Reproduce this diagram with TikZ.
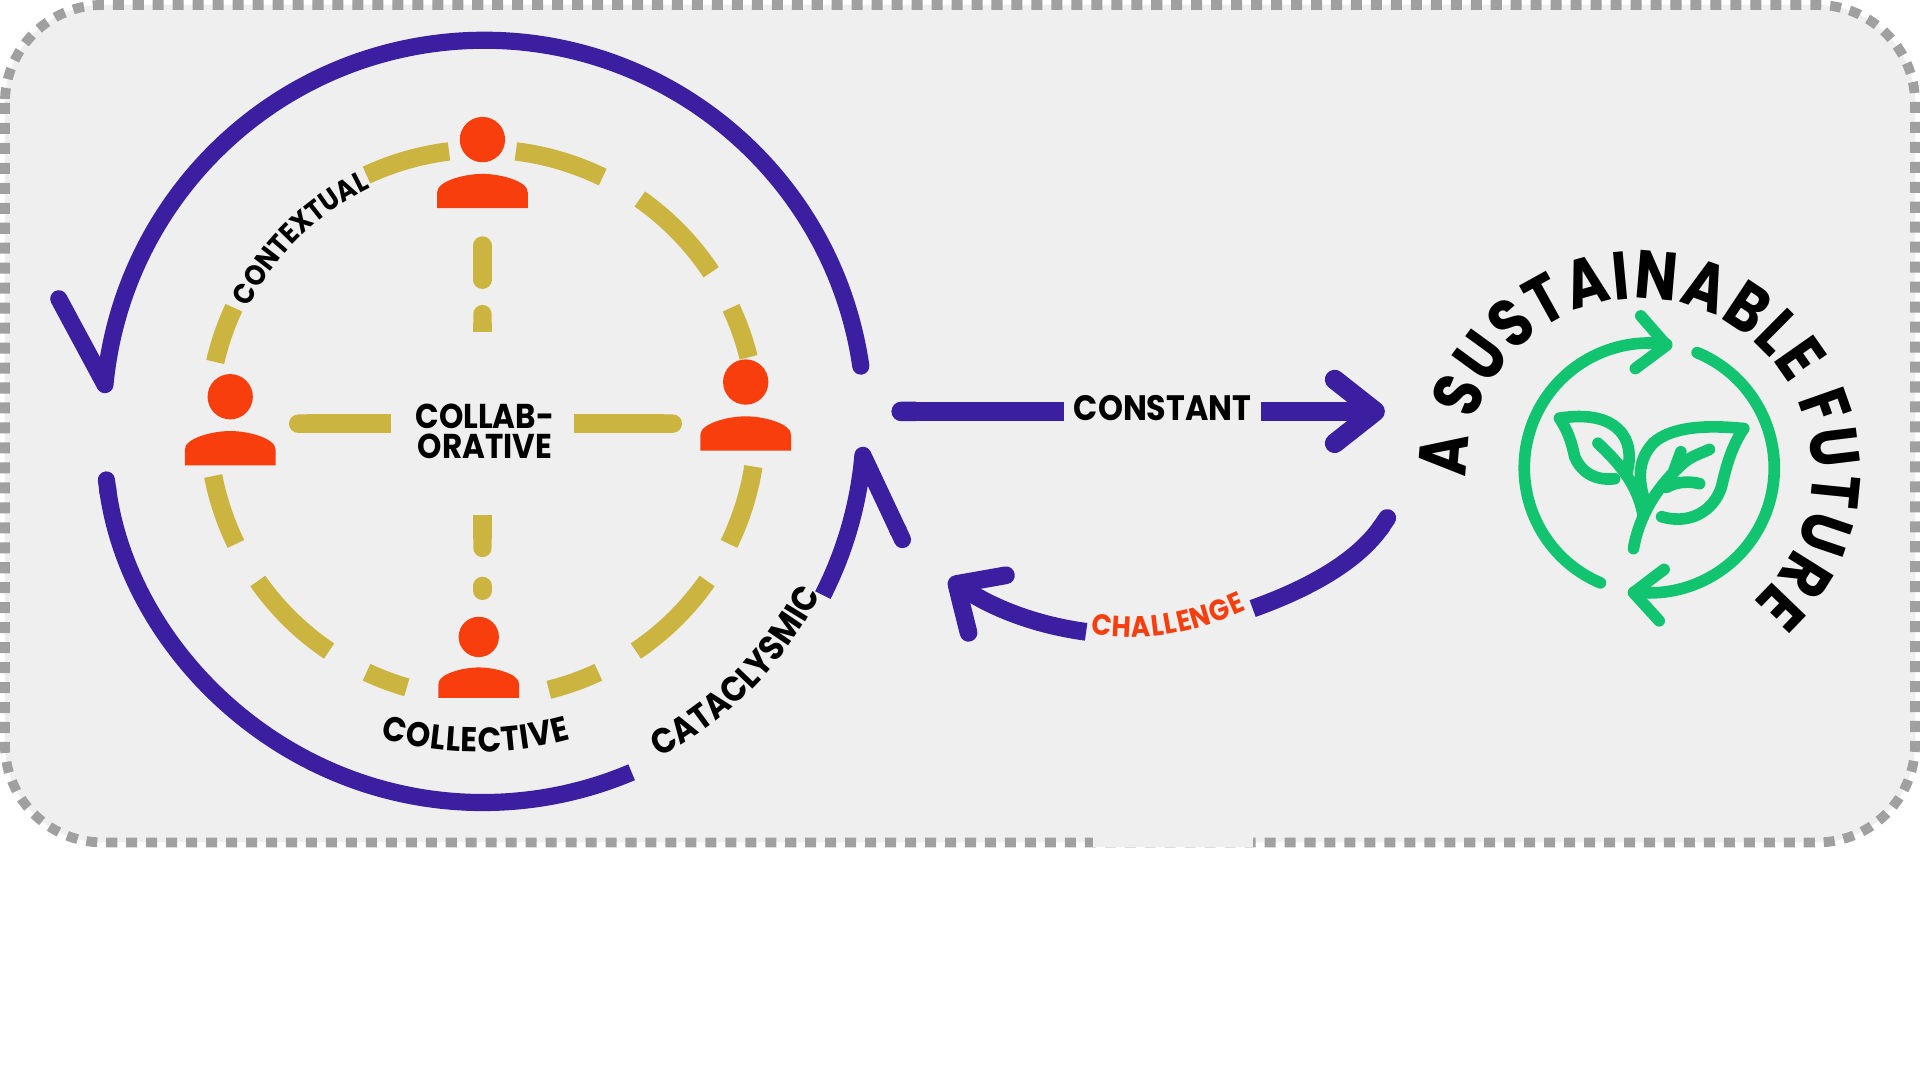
\documentclass[tikz,border=0pt]{standalone}
\usepackage{fontspec}
\setmainfont{Poppins}[FakeStretch=0.9]
\newfontfamily\titlefont{Poppins}[FakeStretch=0.83]
\usetikzlibrary{arrows.meta, decorations.text}

\definecolor{loopblue}{HTML}{3C1EA0}
\definecolor{ringgold}{HTML}{CBB540}
\definecolor{personred}{HTML}{F93E0E}
\definecolor{leafgreen}{HTML}{12C46F}
\definecolor{panelgrey}{HTML}{EFEFEF}
\definecolor{framegrey}{HTML}{A0A0A0}

\begin{document}
\begin{tikzpicture}[x=0.01cm, y=0.01cm]
    \tikzstyle{frame} = [draw=framegrey, fill=panelgrey, line width=0.8mm, rounded corners=0.8cm, dash pattern=on 0.9mm off 0.73mm]
    \tikzstyle{loopline} = [draw=loopblue, line width=1.4mm, line join=round]
    \tikzstyle{flow} = [draw=loopblue, line width=1.6mm, line join=round]
    \tikzstyle{ringseg} = [draw=ringgold, line width=1.5mm]
    \tikzstyle{spoke} = [draw=ringgold, line width=1.5mm, -{Round Cap}]
    \tikzstyle{spokeround} = [draw=ringgold, line width=1.5mm, line cap=round]
    \tikzstyle{hub} = [minimum size=14.8mm, inner sep=0pt, align=center, font=\fontsize{8}{7.1}\selectfont\bfseries]
    \tikzstyle{flowlabel} = [minimum width=15.9mm, inner sep=0pt, font=\fontsize{8.2}{9}\selectfont\bfseries]
    \tikzstyle{curved} = [decorate]
    \tikzstyle{leaf} = [draw=leafgreen, line width=0.95mm, line cap=round, line join=round]
    \tikzset{person/.pic={
        \fill[personred] (-37,0) -- (-37,13) .. controls (-37,22) and (-15,28) .. (0,28) .. controls (15,28) and (37,22) .. (37,13) -- (37,0) -- cycle;
        \fill[personred] (0,56) circle (18.5);
    }}

    \useasboundingbox (0,0) rectangle (1568,-882);
    \fill[white] (0,0) rectangle (1568,-882);
    \path[frame] (4,-4) rectangle (1564,-688);
    \fill[panelgrey] (893,-683) rectangle (1023,-692);

    % outer loop
    \coordinate (loopA) at (703,-299);
    \coordinate (barbA) at (48,-244);
    \coordinate (loopB) at (86,-385);
    \coordinate (loopC) at (672,-486);
    \coordinate (barbC) at (740,-447);
    \draw[loopline, line cap=round] (loopA) arc[start angle=8.3, end angle=174.5, radius=311] -- (barbA);
    \draw[loopline, {Round Cap}-] (loopB) arc[start angle=187.5, end angle=293, radius=311];
    \draw[loopline, -{Round Cap}] (loopC) arc[start angle=333, end angle=355, radius=311] -- (barbC);

    % ring of dashes
    \draw[ringseg] (394,-346) ++(115:224) arc[start angle=115, end angle=97, radius=224];
    \draw[ringseg] (394,-346) ++(83:224) arc[start angle=83, end angle=64, radius=224];
    \draw[ringseg] (394,-346) ++(55:224) arc[start angle=55, end angle=33.5, radius=224];
    \draw[ringseg] (394,-346) ++(25:224) arc[start angle=25, end angle=14, radius=224];
    \draw[ringseg] (394,-346) ++(-9:224) arc[start angle=-9, end angle=-26, radius=224];
    \draw[ringseg] (394,-346) ++(-35:224) arc[start angle=-35, end angle=-56, radius=224];
    \draw[ringseg] (394,-346) ++(-65:224) arc[start angle=-65, end angle=-76, radius=224];
    \draw[ringseg] (394,-346) ++(-106:224) arc[start angle=-106, end angle=-115, radius=224];
    \draw[ringseg] (394,-346) ++(-124:224) arc[start angle=-124, end angle=-145, radius=224];
    \draw[ringseg] (394,-346) ++(-154:224) arc[start angle=-154, end angle=-169, radius=224];
    \draw[ringseg] (394,-346) ++(167:224) arc[start angle=167, end angle=155, radius=224];

    \pic (ptop) at (394,-170) {person};
    \pic (pleft) at (188,-380) {person};
    \pic (pright) at (609,-368) {person};
    \pic (pbottom) [scale=0.89] at (391,-570) {person};

    % centre and spokes
    \node (collab) [hub] at (394,-346) {\rule{0pt}{9.3pt}\hspace*{1.1pt}COLLAB-\\\hspace*{1.1pt}ORATIVE};
    \coordinate (spokeW) at (236,-346);
    \coordinate (spokeE) at (557,-346);
    \coordinate (spokeN) at (394,-249);
    \coordinate (spokeS) at (394,-455);
    \coordinate (dashNa) at (394,-200.5);
    \coordinate (dashNb) at (394,-228.5);
    \coordinate (dashSa) at (394,-478.5);
    \coordinate (dashSb) at (394,-482.5);
    \draw[spoke] (collab.west) -- (spokeW);
    \draw[spoke] (collab.east) -- (spokeE);
    \draw[spoke] (collab.north) -- (spokeN);
    \draw[spoke] (collab.south) -- (spokeS);
    \draw[spokeround] (dashNa) -- (dashNb);
    \draw[spokeround] (dashSa) -- (dashSb);

    % curved words
    \path[curved, decoration={text along path, text align={fit to path}, text={|\fontsize{6.7}{8}\selectfont\bfseries|CONTEXTUAL}}] (394,-346) ++(153.5:213) arc[start angle=153.5, end angle=115.5, radius=213];
    \path[curved, decoration={text along path, text align={fit to path}, text={|\fontsize{8}{9}\selectfont\bfseries|COLLECTIVE}}] (390,-328) ++(254:286) arc[start angle=254, end angle=285.5, radius=286];
    \path[curved, decoration={text along path, text align={fit to path}, text={|\fontsize{8.2}{10}\selectfont\bfseries|CATACLYSMIC}}] (395,-345) ++(-62.3:309) arc[start angle=-62.3, end angle=-27, radius=309];
    \path[curved, decoration={text along path, text align={fit to path}, text={|\fontsize{6.8}{8}\selectfont\bfseries\color{personred}|CHALLENGE}}] (891,-517) .. controls (930,-526) and (975,-518) .. (1018,-498);

    % flows to and from the future
    \node (constant) [flowlabel] at (949.5,-336) {\raisebox{1.7pt}{CONSTANT}};
    \coordinate (constStart) at (728,-336);
    \coordinate (constEnd) at (1131,-336);
    \draw[flow, {Round Cap}-] (constStart) -- (constant.west);
    \draw[flow, -{Straight Barb[round, length=3.3mm, width=5.2mm]}] (constant.east) -- (constEnd);

    \coordinate (chalStart) at (1137,-417);
    \coordinate (chalGapA) at (1023,-497);
    \coordinate (chalGapB) at (887,-516);
    \coordinate (chalEnd) at (775,-473);
    \draw[flow, line width=1.45mm, {Round Cap}-] (chalStart) .. controls (1108,-460) and (1065,-482) .. (chalGapA);
    \draw[flow, line width=1.45mm, -{Straight Barb[round, length=3mm, width=5.6mm]}] (chalGapB) .. controls (850,-511) and (815,-499) .. (chalEnd);

    % title and icon
    \path[curved, decoration={text along path, text align={fit to path}, text={|\fontsize{15.8}{18}\titlefont\bfseries|A SUSTAINABLE FUTURE}}] (1339,-385) ++(182:141) arc[start angle=182, end angle=-49, radius=141];

    \draw[leaf] (1307,-476) arc[start angle=247, end angle=82, radius=102];
    \draw[leaf] (1340,-258) -- (1361,-282) -- (1335.5,-301);
    \draw[leaf] (1386,-288) arc[start angle=67.5, end angle=-97, radius=102];
    \draw[leaf] (1359,-465) -- (1334,-484) -- (1355,-507);

    \draw[leaf] (1318.6,-391) .. controls (1300,-393) and (1290,-383) .. (1286,-373) .. controls (1283,-360) and (1281,-353) .. (1273.5,-341.5) .. controls (1290,-339) and (1310,-339) .. (1322,-351) .. controls (1331,-360) and (1332,-372) .. (1329,-385);
    \draw[leaf] (1424,-350) .. controls (1395,-347) and (1365,-348) .. (1350,-362) .. controls (1338,-375) and (1338,-390) .. (1342,-405);
    \draw[leaf] (1424,-350) .. controls (1414,-365) and (1410,-380) .. (1406,-397) .. controls (1402,-412) and (1385,-430) .. (1357,-422);
    \draw[leaf] (1334,-448) .. controls (1338,-425) and (1350,-400) .. (1375,-378) .. controls (1382,-372) and (1390,-370) .. (1396,-367);
    \draw[leaf] (1305,-362) .. controls (1320,-376) and (1338,-395) .. (1342,-422);
    \draw[leaf] (1372.7,-369) -- (1365,-390);
    \draw[leaf] (1361,-398) .. controls (1370,-393) and (1380,-393) .. (1388,-395);
\end{tikzpicture}
\end{document}
